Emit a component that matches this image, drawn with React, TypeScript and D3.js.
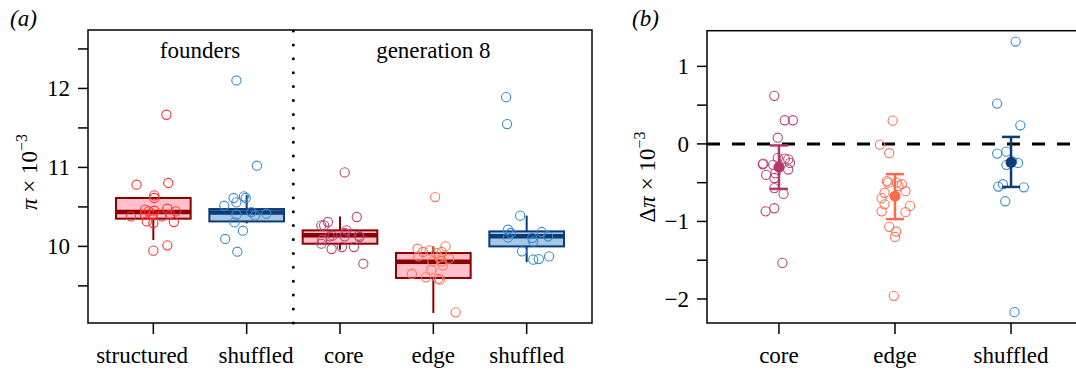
import * as d3 from 'd3';

const W = 1076;
const H = 372;
const TXT = { fontFamily: '"Liberation Serif"' };

// ---- panel (a): nucleotide diversity, founders vs generation 8 ----
const aCats = ['structured', 'shuffled', 'core', 'edge', 'shuffled'];
const aLabelShift = [-0.12, 0.1, 0.04, 0, 0];
const aMajorTicks = [10, 11, 12];
const aMinorTicks = [9.5, 10.5, 11.5, 12.5];

const structuredVals = [11.667, 10.781, 10.803, 10.646, 10.613, 10.38, 10.465, 10.443, 10.452, 10.477,
  10.443, 10.401, 10.401, 10.38, 10.401, 10.316, 10.295, 10.309, 10.013, 9.946];
const structuredJit = [0.14, -0.18, 0.16, 0.01, 0.01, -0.24, -0.09, -0.05, 0.01, 0.15,
  0.24, -0.09, -0.01, 0.09, 0.18, -0.07, 0, 0.22, 0.15, 0];

const foundShufVals = [12.101, 11.022, 10.613, 10.557, 10.633, 10.613, 10.515, 10.401, 10.435, 10.392,
  10.414, 10.304, 10.199, 10.094, 9.933];
const foundShufJit = [-0.11, 0.11, -0.14, -0.11, -0.03, -0.01, -0.24, -0.11, 0.05, 0.09,
  0.21, -0.13, -0.04, -0.23, -0.1];

const coreVals = [10.937, 10.372, 10.309, 10.266, 10.266, 10.203, 10.17, 10.127, 10.135, 10.135,
  10.119, 10.085, 10.034, 9.992, 9.992, 9.967, 9.781, 10.127];
const coreJit = [0.05, 0.18, -0.13, -0.2, -0.17, 0.07, 0.05, -0.11, -0.08, 0.2,
  0.21, -0.19, -0.2, 0.02, 0.15, -0.09, 0.25, 0.05];

const edgeVals = [10.625, 10.0, 9.971, 9.929, 9.949, 9.916, 9.929, 9.873, 9.861, 9.844,
  9.81, 9.81, 9.759, 9.705, 9.651, 9.608, 9.591, 9.578, 9.165];
const edgeJit = [0.02, 0.13, -0.17, -0.11, -0.04, 0.03, 0.09, -0.16, 0.06, 0.17,
  -0.01, 0.09, 0.1, -0.02, -0.23, -0.08, 0.05, 0.07, 0.24];

const gen8ShufVals = [11.89, 11.549, 10.389, 10.211, 10.17, 10.114, 10.182, 10.127, 10.106, 10.063,
  9.937, 9.832, 9.84, 9.873];
const gen8ShufJit = [-0.22, -0.21, -0.07, -0.2, -0.17, -0.2, 0.16, 0.23, 0.06, 0.07,
  -0.05, 0.07, 0.13, 0.24];

// box summaries (lower whisker, q1, median, q3, upper whisker)
const boxLo = [10.08, 10.29, 9.958, 9.157, 9.8];
const boxQ1 = [10.351, 10.316, 10.034, 9.6, 10.0];
const boxMed = [10.435, 10.43, 10.14, 9.806, 10.127];
const boxQ3 = [10.613, 10.473, 10.203, 9.916, 10.19];
const boxHi = [10.62, 10.65, 10.38, 10.0, 10.389];

// ---- panel (b): change in diversity ----
const bCats = ['core', 'edge', 'shuffled'];
const bMajorTicks = [-2, -1, 0, 1];
const bMinorTicks = [-1.5, -0.5, 0.5];

const dCoreVals = [0.62, 0.305, 0.305, 0.08, -0.254, -0.263, -0.18, -0.19, -0.2, -0.245,
  -0.27, -0.33, -0.4, -0.38, -0.44, -0.57, -0.645, -0.87, -0.83, -1.535];
const dCoreJit = [-0.04, 0.05, 0.12, -0.01, -0.135, -0.14, -0.01, 0.05, 0.08, 0.095,
  -0.05, 0.08, -0.11, -0.03, -0.04, -0.04, 0.04, -0.115, -0.04, 0.03];

const dEdgeVals = [0.3, -0.01, -0.12, -0.48, -0.5, -0.5, -0.52, -0.545, -0.63, -0.61,
  -0.7, -0.78, -0.8, -0.87, -0.88, -1.07, -1.13, -1.2, -1.96];
const dEdgeJit = [-0.02, -0.13, -0.05, -0.07, -0.06, 0.015, 0.06, 0.03, -0.09, 0.09,
  -0.115, -0.09, 0.13, -0.115, 0.09, -0.05, 0.01, 0, -0.01];

const dShufVals = [1.32, 0.52, 0.24, -0.125, -0.1, -0.245, -0.27, -0.225, -0.55, -0.52,
  -0.56, -0.74, -2.17];
const dShufJit = [0.04, -0.12, 0.08, -0.12, -0.04, 0.06, -0.04, 0.01, -0.11, -0.07,
  0.11, -0.05, 0.03];

const bMean = [-0.3, -0.675, -0.237];
const bLo = [-0.58, -0.97, -0.555];
const bHi = [-0.02, -0.39, 0.09];

// colours
const RED = '#ff3030';
const BLUE = '#3a8bcb';
const CORE = '#b94474';
const EDGE = '#ff7256';
const PINK = '#ffc0cb';
const DARKRED = '#8b0000';
const LIGHTBLUE = '#a6c8e3';
const NAVY = '#0b3b7a';

export default function App() {
  const xA = d3.scaleLinear().domain([0.3, 5.7]).range([88, 592]);
  const yA = d3.scaleLinear().domain([9.03, 12.74]).range([323, 30]);
  const xB = d3.scaleLinear().domain([0.38, 3.62]).range([707, 1083]);
  const yB = d3.scaleLinear().domain([-2.31, 1.46]).range([323, 30.7]);

  const groupsA = [
    { vals: structuredVals, jit: structuredJit, col: RED, fill: PINK, line: DARKRED },
    { vals: foundShufVals, jit: foundShufJit, col: BLUE, fill: LIGHTBLUE, line: NAVY },
    { vals: coreVals, jit: coreJit, col: CORE, fill: PINK, line: DARKRED },
    { vals: edgeVals, jit: edgeJit, col: EDGE, fill: PINK, line: DARKRED },
    { vals: gen8ShufVals, jit: gen8ShufJit, col: BLUE, fill: LIGHTBLUE, line: NAVY },
  ];
  const groupsB = [
    { vals: dCoreVals, jit: dCoreJit, col: CORE, bar: '#b2386a' },
    { vals: dEdgeVals, jit: dEdgeJit, col: EDGE, bar: '#fa6a4c' },
    { vals: dShufVals, jit: dShufJit, col: BLUE, bar: NAVY },
  ];

  const halfBox = (xA(0.4) - xA(0));
  const capHalf = 9;
  const fs = 23;

  return (
    <svg width={W} height={H} style={{ position: 'absolute', left: 0, top: 0, background: '#fff' }}>
      {/* ---------- panel (a) ---------- */}
      <text x={10} y={26} fontSize={fs} fontStyle="italic" style={TXT}>(a)</text>

      {groupsA.map((g, i) => {
        const cx = xA(i + 1);
        return (
          <g key={'box' + i}>
            <line x1={cx} x2={cx} y1={yA(boxQ3[i])} y2={yA(boxHi[i])} stroke={g.line} strokeWidth={2} />
            <line x1={cx} x2={cx} y1={yA(boxQ1[i])} y2={yA(boxLo[i])} stroke={g.line} strokeWidth={2} />
            <rect x={cx - halfBox} y={yA(boxQ3[i])} width={halfBox * 2}
              height={yA(boxQ1[i]) - yA(boxQ3[i])} fill={g.fill} stroke={g.line} strokeWidth={2} />
            <line x1={cx - halfBox} x2={cx + halfBox} y1={yA(boxMed[i])} y2={yA(boxMed[i])}
              stroke={g.line} strokeWidth={4.5} />
          </g>
        );
      })}

      {groupsA.map((g, i) =>
        g.vals.map((v, j) => (
          <circle key={`pa${i}-${j}`} cx={xA(i + 1 + g.jit[j])} cy={yA(v)} r={4.6}
            fill="none" stroke={g.col} strokeWidth={1.1} />
        ))
      )}

      {/* divider between founders and generation 8 */}
      <line x1={xA(2.5)} x2={xA(2.5)} y1={31} y2={323} stroke="#000" strokeWidth={3}
        strokeLinecap="round" strokeDasharray="0 13.9" />

      <rect x={88} y={30} width={592 - 88} height={323 - 30} fill="none" stroke="#000" strokeWidth={1.5} />

      <text x={(xA(1) + xA(2)) / 2} y={58} fontSize={fs} textAnchor="middle" style={TXT}>founders</text>
      <text x={xA(4)} y={58} fontSize={fs} textAnchor="middle" style={TXT}>generation 8</text>

      {aMajorTicks.concat(aMinorTicks).map((t) => (
        <line key={'at' + t} x1={78} x2={88} y1={yA(t)} y2={yA(t)} stroke="#000" strokeWidth={1.5} />
      ))}
      {aMajorTicks.map((t) => (
        <text key={'al' + t} x={70} y={yA(t)} dy="0.35em" fontSize={fs} textAnchor="end" style={TXT}>{t}</text>
      ))}
      {aCats.map((c, i) => (
        <g key={'ac' + i}>
          <line x1={xA(i + 1)} x2={xA(i + 1)} y1={323} y2={334} stroke="#000" strokeWidth={1.5} />
          <text x={xA(i + 1 + aLabelShift[i])} y={363} fontSize={fs} textAnchor="middle" style={TXT}>{c}</text>
        </g>
      ))}
      <text transform={`translate(37,172) rotate(-90)`} fontSize={fs} textAnchor="middle" style={TXT}>
        <tspan fontStyle="italic">π</tspan>
        <tspan> × 10</tspan>
        <tspan fontSize={16} dy={-10}>−3</tspan>
      </text>

      {/* ---------- panel (b) ---------- */}
      <text x={632} y={26} fontSize={fs} fontStyle="italic" style={TXT}>(b)</text>

      <line x1={707} x2={W} y1={yB(0)} y2={yB(0)} stroke="#000" strokeWidth={3} strokeDasharray="13 12" />

      {groupsB.map((g, i) =>
        g.vals.map((v, j) => (
          <circle key={`pb${i}-${j}`} cx={xB(i + 1 + g.jit[j])} cy={yB(v)} r={4.6}
            fill="none" stroke={g.col} strokeWidth={1.1} />
        ))
      )}
      {groupsB.map((g, i) => {
        const cx = xB(i + 1);
        return (
          <g key={'eb' + i} stroke={g.bar} strokeWidth={2.5}>
            <line x1={cx} x2={cx} y1={yB(bLo[i])} y2={yB(bHi[i])} />
            <line x1={cx - capHalf} x2={cx + capHalf} y1={yB(bLo[i])} y2={yB(bLo[i])} />
            <line x1={cx - capHalf} x2={cx + capHalf} y1={yB(bHi[i])} y2={yB(bHi[i])} />
            <circle cx={cx} cy={yB(bMean[i])} r={5.5} fill={g.bar} stroke="none" />
          </g>
        );
      })}

      <rect x={707} y={30.7} width={1083 - 707} height={323 - 30.7} fill="none" stroke="#000" strokeWidth={1.5} />

      {bMajorTicks.concat(bMinorTicks).map((t) => (
        <line key={'bt' + t} x1={697} x2={707} y1={yB(t)} y2={yB(t)} stroke="#000" strokeWidth={1.5} />
      ))}
      {bMajorTicks.map((t) => (
        <text key={'bl' + t} x={689} y={yB(t)} dy="0.35em" fontSize={fs} textAnchor="end" style={TXT}>
          {t < 0 ? '−' + Math.abs(t) : t}
        </text>
      ))}
      {bCats.map((c, i) => (
        <g key={'bc' + i}>
          <line x1={xB(i + 1)} x2={xB(i + 1)} y1={323} y2={334} stroke="#000" strokeWidth={1.5} />
          <text x={xB(i + 1)} y={363} fontSize={fs} textAnchor="middle" style={TXT}>{c}</text>
        </g>
      ))}
      <text transform={`translate(655,177) rotate(-90)`} fontSize={fs} textAnchor="middle" style={TXT}>
        <tspan>Δ</tspan>
        <tspan fontStyle="italic">π</tspan>
        <tspan> × 10</tspan>
        <tspan fontSize={16} dy={-10}>−3</tspan>
      </text>
    </svg>
  );
}
